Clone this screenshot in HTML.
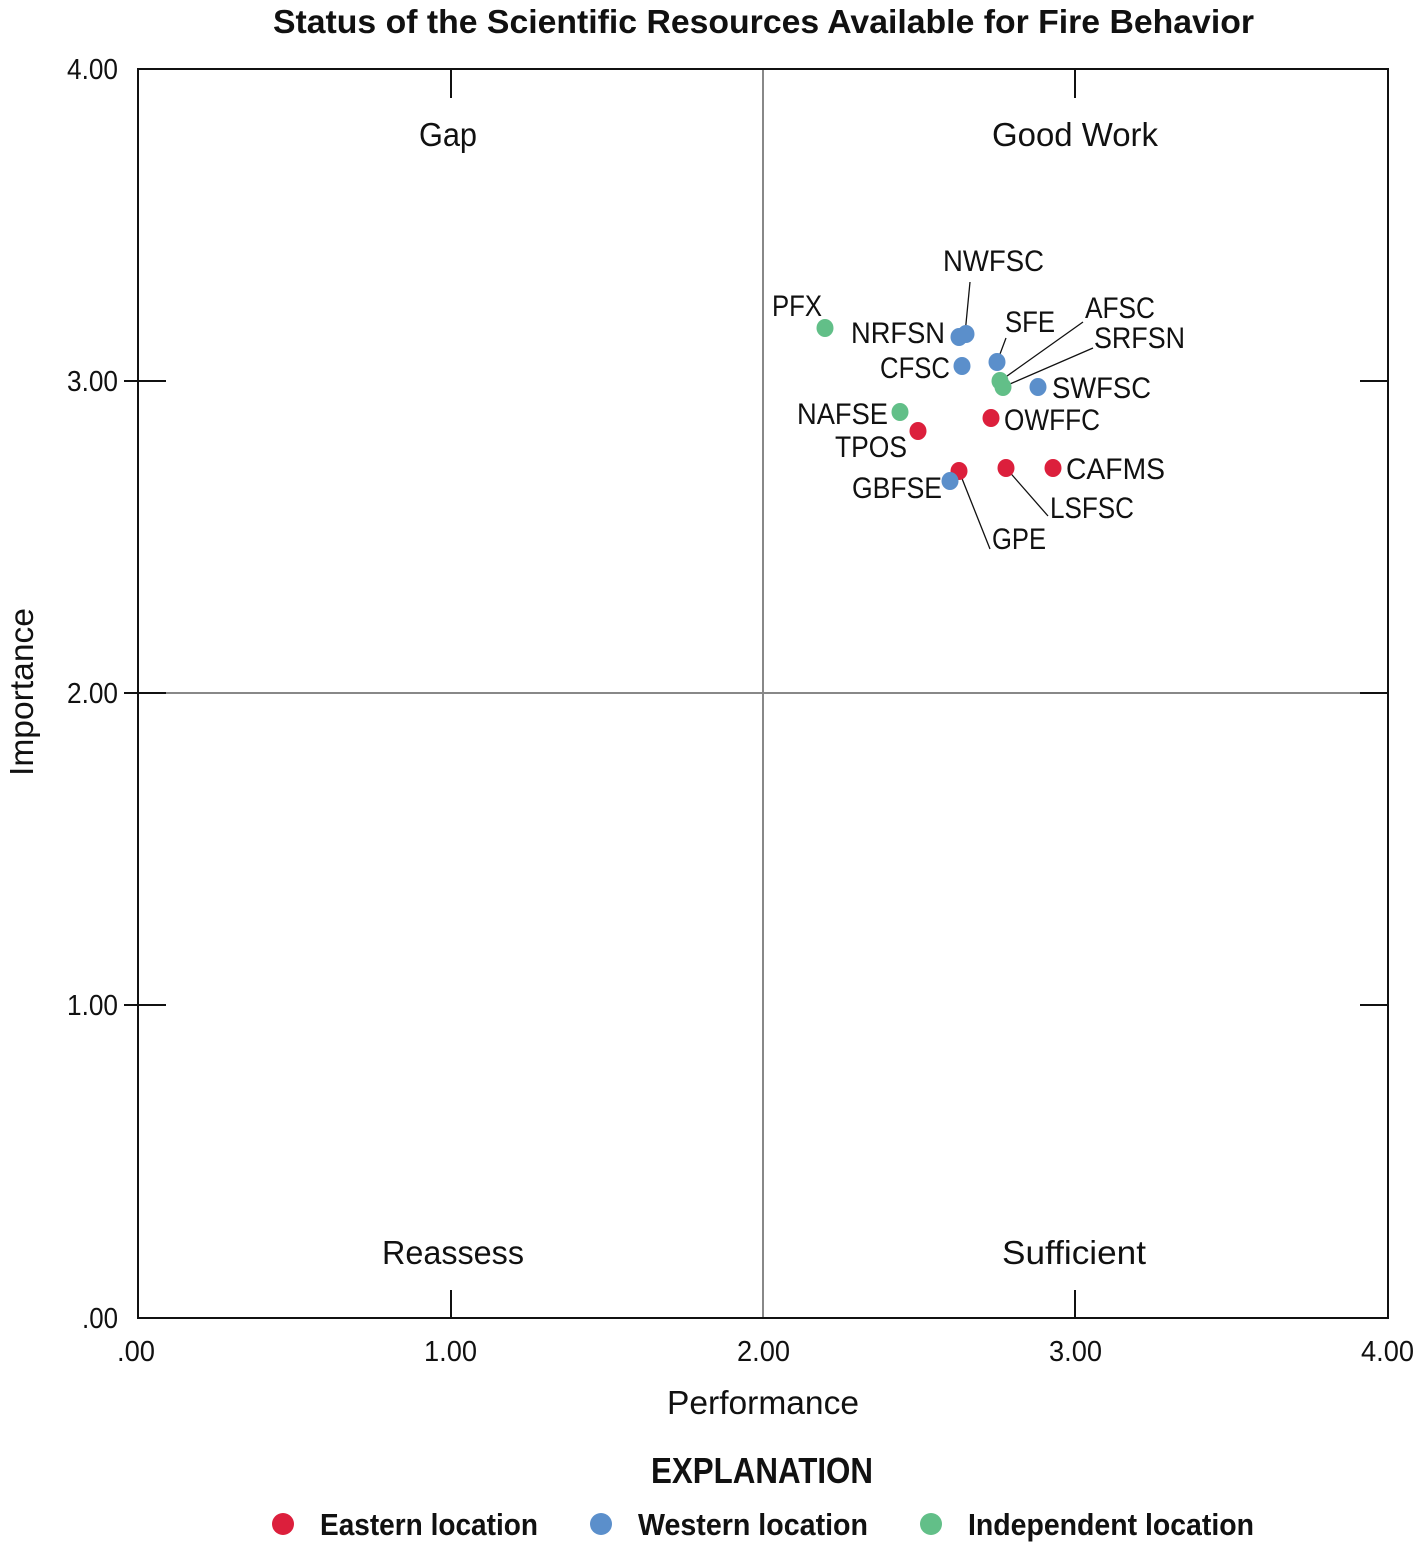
<!DOCTYPE html>
<html><head><meta charset="utf-8"><style>
html,body{margin:0;padding:0;background:#fff;}
svg text{font-family:"Liberation Sans Narrow","Liberation Sans",sans-serif;fill:#111;}
</style></head><body>
<svg width="1414" height="1544" viewBox="0 0 1414 1544" xmlns="http://www.w3.org/2000/svg">
<text x="273" y="33" font-size="33" font-weight="bold" textLength="981" lengthAdjust="spacingAndGlyphs">Status of the Scientific Resources Available for Fire Behavior</text>
<line x1="763" y1="69" x2="763" y2="1318" stroke="#888" stroke-width="2"/>
<line x1="138" y1="693" x2="1388" y2="693" stroke="#888" stroke-width="2"/>
<rect x="138" y="69" width="1250" height="1249" fill="none" stroke="#111" stroke-width="2"/>
<g stroke="#111" stroke-width="2">
<line x1="451" y1="69" x2="451" y2="98"/><line x1="1075" y1="69" x2="1075" y2="98"/>
<line x1="451" y1="1290" x2="451" y2="1318"/><line x1="1075" y1="1290" x2="1075" y2="1318"/>
<line x1="124" y1="381" x2="166" y2="381"/><line x1="124" y1="1005" x2="166" y2="1005"/><line x1="124" y1="693" x2="166" y2="693"/>
<line x1="1360" y1="381" x2="1388" y2="381"/><line x1="1360" y1="1005" x2="1388" y2="1005"/><line x1="1360" y1="693" x2="1388" y2="693"/>
</g>
<g font-size="29">
<text x="67" y="79" textLength="51" lengthAdjust="spacingAndGlyphs">4.00</text>
<text x="67" y="391" textLength="51" lengthAdjust="spacingAndGlyphs">3.00</text>
<text x="67" y="703" textLength="51" lengthAdjust="spacingAndGlyphs">2.00</text>
<text x="67" y="1015" textLength="51" lengthAdjust="spacingAndGlyphs">1.00</text>
<text x="82" y="1328" textLength="36" lengthAdjust="spacingAndGlyphs">.00</text>
<text x="117" y="1361" textLength="38" lengthAdjust="spacingAndGlyphs">.00</text>
<text x="424" y="1361" textLength="53" lengthAdjust="spacingAndGlyphs">1.00</text>
<text x="737" y="1361" textLength="53" lengthAdjust="spacingAndGlyphs">2.00</text>
<text x="1049" y="1361" textLength="53" lengthAdjust="spacingAndGlyphs">3.00</text>
<text x="1361" y="1361" textLength="53" lengthAdjust="spacingAndGlyphs">4.00</text>
</g>
<g font-size="33">
<text x="667" y="1414" textLength="192" lengthAdjust="spacingAndGlyphs">Performance</text>
<text transform="translate(33,776) rotate(-90)" textLength="168" lengthAdjust="spacingAndGlyphs">Importance</text>
<text x="419" y="146" textLength="58" lengthAdjust="spacingAndGlyphs">Gap</text>
<text x="992" y="146" textLength="166" lengthAdjust="spacingAndGlyphs">Good Work</text>
<text x="382" y="1264" textLength="142" lengthAdjust="spacingAndGlyphs">Reassess</text>
<text x="1002" y="1264" textLength="144" lengthAdjust="spacingAndGlyphs">Sufficient</text>
</g>
<g stroke="#111" stroke-width="1.3">
<line x1="965" y1="334" x2="970" y2="282"/>
<line x1="997" y1="362" x2="1006" y2="338"/>
<line x1="1000" y1="381" x2="1083" y2="322"/>
<line x1="1003" y1="387" x2="1093" y2="348"/>
<line x1="1006" y1="468" x2="1048" y2="516"/>
<line x1="959" y1="471" x2="990" y2="549"/>
</g>
<g>
<ellipse cx="825" cy="328" rx="8.5" ry="9" fill="#62bf88"/>
<ellipse cx="959" cy="337" rx="8.5" ry="9" fill="#5b8fcb"/>
<ellipse cx="966" cy="334" rx="8.5" ry="9" fill="#5b8fcb"/>
<ellipse cx="962" cy="366" rx="8.5" ry="9" fill="#5b8fcb"/>
<ellipse cx="997" cy="362" rx="8.5" ry="9" fill="#5b8fcb"/>
<ellipse cx="1038" cy="387" rx="8.5" ry="9" fill="#5b8fcb"/>
<ellipse cx="1000" cy="381" rx="8.5" ry="9" fill="#62bf88"/>
<ellipse cx="1003" cy="387" rx="8.5" ry="9" fill="#62bf88"/>
<ellipse cx="900" cy="412" rx="8.5" ry="9" fill="#62bf88"/>
<ellipse cx="918" cy="431" rx="8.5" ry="9" fill="#dc1f3c"/>
<ellipse cx="991" cy="418" rx="8.5" ry="9" fill="#dc1f3c"/>
<ellipse cx="959" cy="471" rx="8.5" ry="9" fill="#dc1f3c"/>
<ellipse cx="950" cy="481" rx="8.5" ry="9" fill="#5b8fcb"/>
<ellipse cx="1006" cy="468" rx="8.5" ry="9" fill="#dc1f3c"/>
<ellipse cx="1053" cy="468" rx="8.5" ry="9" fill="#dc1f3c"/>
</g>
<g font-size="30">
<text x="772" y="316" textLength="50" lengthAdjust="spacingAndGlyphs">PFX</text>
<text x="943" y="271" textLength="101" lengthAdjust="spacingAndGlyphs">NWFSC</text>
<text x="851" y="343" textLength="94" lengthAdjust="spacingAndGlyphs">NRFSN</text>
<text x="1005" y="332" textLength="50" lengthAdjust="spacingAndGlyphs">SFE</text>
<text x="1085" y="318" textLength="70" lengthAdjust="spacingAndGlyphs">AFSC</text>
<text x="1094" y="348" textLength="91" lengthAdjust="spacingAndGlyphs">SRFSN</text>
<text x="880" y="378" textLength="70" lengthAdjust="spacingAndGlyphs">CFSC</text>
<text x="1052" y="398" textLength="99" lengthAdjust="spacingAndGlyphs">SWFSC</text>
<text x="797" y="424" textLength="91" lengthAdjust="spacingAndGlyphs">NAFSE</text>
<text x="1004" y="430" textLength="96" lengthAdjust="spacingAndGlyphs">OWFFC</text>
<text x="835" y="457" textLength="72" lengthAdjust="spacingAndGlyphs">TPOS</text>
<text x="1066" y="479" textLength="99" lengthAdjust="spacingAndGlyphs">CAFMS</text>
<text x="852" y="498" textLength="90" lengthAdjust="spacingAndGlyphs">GBFSE</text>
<text x="1050" y="518" textLength="84" lengthAdjust="spacingAndGlyphs">LSFSC</text>
<text x="992" y="549" textLength="54" lengthAdjust="spacingAndGlyphs">GPE</text>
</g>
<text x="651" y="1483" font-size="36" font-weight="bold" textLength="222" lengthAdjust="spacingAndGlyphs">EXPLANATION</text>
<g font-size="31" font-weight="bold">
<circle cx="283" cy="1524" r="11" fill="#dc1f3c"/><text x="320" y="1535" textLength="218" lengthAdjust="spacingAndGlyphs">Eastern location</text>
<circle cx="601" cy="1524" r="11" fill="#5b8fcb"/><text x="638" y="1535" textLength="230" lengthAdjust="spacingAndGlyphs">Western location</text>
<circle cx="931" cy="1524" r="11" fill="#62bf88"/><text x="968" y="1535" textLength="286" lengthAdjust="spacingAndGlyphs">Independent location</text>
</g>
</svg>
</body></html>
